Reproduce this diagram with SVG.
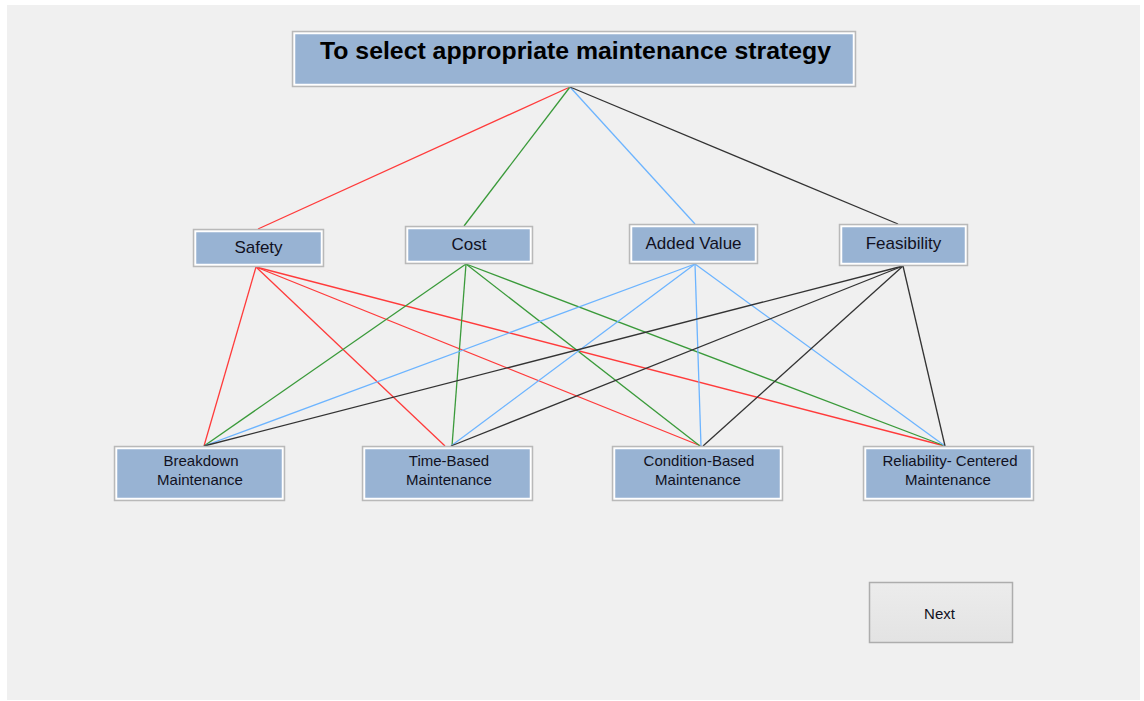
<svg xmlns="http://www.w3.org/2000/svg" width="1144" height="701" viewBox="0 0 1144 701">
  <style>
    .box-outer { fill: none; stroke: #b9b9b9; stroke-width: 1.5; }
    .box-inner { fill: #98b3d3; stroke: #ffffff; stroke-width: 1.5; }
    .lbl { font-family: "Liberation Sans", Arial, sans-serif; fill: #111122; text-anchor: middle; }
    .crit { font-size: 17px; }
    .alt { font-size: 15px; }
    .title { font-size: 24.5px; font-weight: bold; fill: #000000; }
    .c-red { stroke: #ff3b3b; }
    .c-green { stroke: #3a9a3a; }
    .c-blue { stroke: #6cb4ff; }
    .c-black { stroke: #333333; }
    #connectors line { stroke-width: 1.3; fill: none; }
  </style>
  <defs>
    <linearGradient id="btnGrad" x1="0" y1="0" x2="0" y2="1">
      <stop offset="0" stop-color="#ececec"/>
      <stop offset="1" stop-color="#e3e3e3"/>
    </linearGradient>
  </defs>

  <!-- window background -->
  <rect x="0" y="0" width="1144" height="701" fill="#ffffff"/>
  <rect x="7" y="5" width="1133" height="695" fill="#f0f0f0"/>

  <!-- connectors -->
  <g id="connectors">
    <!-- goal to criteria -->
    <line class="c-red" x1="570" y1="87" x2="258" y2="229"/>
    <line class="c-green" x1="570" y1="87" x2="464" y2="226"/>
    <line class="c-blue" x1="570" y1="87" x2="695" y2="224"/>
    <line class="c-black" x1="570" y1="87" x2="898" y2="224"/>
    <!-- Safety to alternatives -->
    <line class="c-red" x1="256" y1="267" x2="204" y2="446"/>
    <line class="c-red" x1="256" y1="267" x2="445" y2="446"/>
    <line class="c-red" x1="256" y1="267" x2="701" y2="446"/>
    <line class="c-red" x1="256" y1="267" x2="945" y2="446"/>
    <!-- Cost to alternatives -->
    <line class="c-green" x1="466" y1="264" x2="204" y2="446"/>
    <line class="c-green" x1="466" y1="264" x2="452" y2="446"/>
    <line class="c-green" x1="466" y1="264" x2="700" y2="446"/>
    <line class="c-green" x1="466" y1="264" x2="945" y2="446"/>
    <!-- Added Value to alternatives -->
    <line class="c-blue" x1="695" y1="264" x2="204" y2="446"/>
    <line class="c-blue" x1="695" y1="264" x2="451" y2="446"/>
    <line class="c-blue" x1="695" y1="264" x2="701" y2="446"/>
    <line class="c-blue" x1="695" y1="264" x2="945" y2="446"/>
    <!-- Feasibility to alternatives -->
    <line class="c-black" x1="903" y1="266" x2="204" y2="446"/>
    <line class="c-black" x1="903" y1="266" x2="451" y2="446"/>
    <line class="c-black" x1="903" y1="266" x2="703" y2="446"/>
    <line class="c-black" x1="903" y1="266" x2="945" y2="446"/>
  </g>

  <!-- goal -->
  <g id="goal">
    <rect class="box-outer" x="292.5" y="31.5" width="563" height="55"/>
    <rect class="box-inner" x="294.5" y="33.5" width="559" height="51"/>
    <text class="lbl title" x="575.5" y="59" textLength="511" lengthAdjust="spacingAndGlyphs">To select appropriate maintenance strategy</text>
  </g>

  <!-- criteria -->
  <g id="safety">
    <rect class="box-outer" x="193.5" y="229.5" width="130" height="37"/>
    <rect class="box-inner" x="195.5" y="231.5" width="126" height="33"/>
    <text class="lbl crit" x="258.5" y="253">Safety</text>
  </g>
  <g id="cost">
    <rect class="box-outer" x="405.5" y="226.5" width="127" height="37"/>
    <rect class="box-inner" x="407.5" y="228.5" width="123" height="33"/>
    <text class="lbl crit" x="469" y="249.5">Cost</text>
  </g>
  <g id="added-value">
    <rect class="box-outer" x="629.5" y="224.5" width="128" height="39"/>
    <rect class="box-inner" x="631.5" y="226.5" width="124" height="35"/>
    <text class="lbl crit" x="693.5" y="248.5">Added Value</text>
  </g>
  <g id="feasibility">
    <rect class="box-outer" x="839.5" y="224.5" width="128" height="41"/>
    <rect class="box-inner" x="841.5" y="226.5" width="124" height="37"/>
    <text class="lbl crit" x="903.5" y="249">Feasibility</text>
  </g>

  <!-- alternatives -->
  <g id="breakdown">
    <rect class="box-outer" x="114.5" y="446.5" width="170" height="54"/>
    <rect class="box-inner" x="116.5" y="448.5" width="166" height="50"/>
    <text class="lbl alt" x="201" y="466">Breakdown</text>
    <text class="lbl alt" x="200" y="485">Maintenance</text>
  </g>
  <g id="time-based">
    <rect class="box-outer" x="362.5" y="446.5" width="170" height="54"/>
    <rect class="box-inner" x="364.5" y="448.5" width="166" height="50"/>
    <text class="lbl alt" x="449" y="466">Time-Based</text>
    <text class="lbl alt" x="449" y="485">Maintenance</text>
  </g>
  <g id="condition-based">
    <rect class="box-outer" x="612.5" y="446.5" width="170" height="54"/>
    <rect class="box-inner" x="614.5" y="448.5" width="166" height="50"/>
    <text class="lbl alt" x="699" y="466">Condition-Based</text>
    <text class="lbl alt" x="698" y="485">Maintenance</text>
  </g>
  <g id="reliability-centered">
    <rect class="box-outer" x="863.5" y="446.5" width="170" height="54"/>
    <rect class="box-inner" x="865.5" y="448.5" width="166" height="50"/>
    <text class="lbl alt" x="950" y="466">Reliability- Centered</text>
    <text class="lbl alt" x="948" y="485">Maintenance</text>
  </g>

  <!-- Next button -->
  <g id="next-button">
    <rect x="869.5" y="582.5" width="143" height="60" fill="url(#btnGrad)" stroke="#adadad" stroke-width="1.5"/>
    <text class="lbl" x="939.5" y="619" font-size="15">Next</text>
  </g>
</svg>
